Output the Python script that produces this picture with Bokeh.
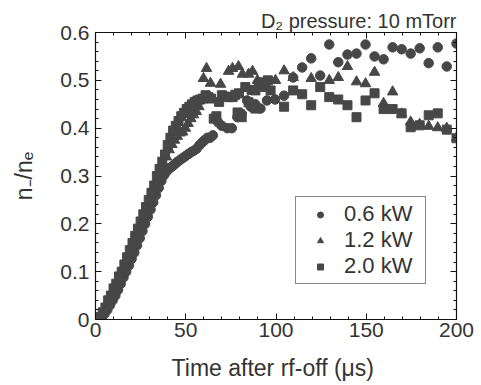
from bokeh.plotting import figure
from bokeh.models import (LinearAxis, SingleIntervalTicker, Range1d, Legend, LegendItem,
                          CustomLabelingPolicy)
from bokeh.embed import file_html
from bokeh.resources import INLINE

# ---- data ----
t_06 = [2, 3.5, 5, 6.5, 8, 9.5, 11, 12.5, 14, 15.5, 17, 18.5, 20, 21.5, 23, 24.5, 26, 27.5,
        29, 30.5, 32, 33.5, 35, 36.5, 38, 39.5, 41, 42.5, 44, 45.5, 47, 48.5, 50, 51.5, 53,
        54.5, 56, 57.5, 59, 60.5, 62, 63.5, 65,
        66.5, 68, 70, 73, 75.5, 78.6, 81, 84, 86, 88.5, 91.4, 95, 99.5,
        104.5, 109.5, 114.5, 119.5, 124.5, 129.5, 134.5, 139.6, 144.6, 149.6, 154.6,
        159.6, 164.6, 169.6, 174.6, 179.6, 184.6, 189.6, 194.6, 200]
v_06 = [0.0, 0.005, 0.012, 0.02, 0.03, 0.04, 0.05, 0.062, 0.075, 0.088, 0.1, 0.113, 0.127,
        0.14, 0.155, 0.17, 0.185, 0.2, 0.215, 0.23, 0.245, 0.26, 0.275, 0.29, 0.302, 0.31,
        0.316, 0.32, 0.325, 0.33, 0.334, 0.338, 0.342, 0.346, 0.35, 0.353, 0.357, 0.364,
        0.37, 0.375, 0.38, 0.38, 0.385,
        0.423, 0.412, 0.405, 0.40, 0.40, 0.423, 0.43, 0.458, 0.445, 0.45, 0.441, 0.458, 0.46,
        0.468, 0.506, 0.527, 0.546, 0.51, 0.575, 0.538, 0.554, 0.556, 0.575, 0.55,
        0.544, 0.569, 0.565, 0.556, 0.567, 0.536, 0.569, 0.529, 0.577]

t_12 = [1.8, 3.3, 4.8, 6.3, 7.8, 9.3, 10.8, 12.3, 13.8, 15.3, 16.8, 18.3, 19.8, 21.3, 22.8,
        24.3, 25.8, 27.3, 28.8, 30.3, 31.8, 33.3, 34.8, 36.3, 37.8, 39.3, 40.8, 42.3, 43.8,
        45.3, 46.8, 48.3, 49.8, 51.3, 52.8, 54.3, 55.8, 57.3,
        59.8, 61.5, 63.7, 69.3, 73.7, 75.9, 79.2, 81.4, 84.8, 87, 89.7, 99.7,
        104.5, 109.5, 119.5, 129.5, 134.5, 139.6, 144.6, 149.6, 154.6, 159.6, 164.6,
        169.6, 174.6, 179.6, 184.6, 189.6, 194.6, 200]
v_12 = [0.0, 0.008, 0.018, 0.03, 0.042, 0.055, 0.068, 0.08, 0.093, 0.106, 0.12, 0.133, 0.148,
        0.163, 0.178, 0.193, 0.208, 0.223, 0.238, 0.253, 0.268, 0.283, 0.298, 0.31, 0.325,
        0.34, 0.355, 0.366, 0.375, 0.383, 0.39, 0.392, 0.40, 0.41, 0.42, 0.428, 0.435, 0.445,
        0.504, 0.525, 0.494, 0.492, 0.519, 0.525, 0.529, 0.513, 0.513, 0.519, 0.50, 0.50,
        0.52, 0.506, 0.504, 0.50, 0.506, 0.529, 0.497, 0.493, 0.517, 0.452, 0.476,
        0.43, 0.413, 0.408, 0.404, 0.401, 0.40, 0.38]

t_20 = [1, 2.5, 4, 5.5, 7, 8.5, 10, 11.5, 13, 14.5, 16, 17.5, 19, 20.5, 22, 23.5, 25, 26.5,
        28, 29.5, 31, 32.5, 34, 35.5, 37, 38.5, 40, 41.5, 43, 44.5, 46, 47.5, 49, 50.5, 52,
        53.5, 55,
        56.5, 58, 59.5, 61, 62.5, 64, 65.5, 67, 68.5, 70, 72, 74, 76, 77.5, 78.7, 79.5, 81,
        83, 84.8, 86.5, 88.6, 88.6, 90.5, 92.5, 94, 95.5, 97,
        104.5, 109.5, 114.5, 119.5, 124.5, 129.5, 134.5, 139.6, 144.6, 149.6, 154.6,
        159.6, 164.6, 169.6, 174.6, 179.6, 184.6, 189.6, 194.6, 200]
v_20 = [0.0, 0.005, 0.015, 0.025, 0.04, 0.05, 0.065, 0.075, 0.09, 0.10, 0.115, 0.13, 0.145,
        0.16, 0.175, 0.19, 0.205, 0.22, 0.235, 0.25, 0.265, 0.28, 0.30, 0.315, 0.33, 0.345,
        0.365, 0.38, 0.395, 0.405, 0.415, 0.425, 0.432, 0.44, 0.445, 0.45, 0.455,
        0.458, 0.46, 0.462, 0.469, 0.465, 0.462, 0.42, 0.425, 0.455, 0.469, 0.466, 0.465,
        0.465, 0.47, 0.433, 0.473, 0.423, 0.486, 0.454, 0.48, 0.479, 0.441, 0.49, 0.496,
        0.486, 0.50, 0.479,
        0.445, 0.479, 0.471, 0.448, 0.486, 0.465, 0.46, 0.448, 0.423, 0.458, 0.473,
        0.44, 0.44, 0.431, 0.402, 0.406, 0.427, 0.431, 0.397, 0.379]

labels = ["0.6 kW", "1.2 kW", "2.0 kW"]
x_ticks_interval = 50
y_ticks_interval = 0.1

FONT = "Liberation Sans"
TXT = "#333333"
MK = "#474747"

p = figure(width=481, height=385, output_backend="svg", toolbar_location=None,
           x_range=Range1d(0, 200), y_range=Range1d(0, 0.6001),
           min_border_left=95, min_border_right=25, min_border_top=32, min_border_bottom=66)
p.background_fill_color = "white"
p.border_fill_color = "white"
p.grid.visible = False
p.outline_line_color = "#111111"
p.outline_line_width = 1.2

# title
p.title.text = "D\u2082 pressure: 10 mTorr"
p.title.align = "right"
p.title.text_font = FONT
p.title.text_font_size = "20px"
p.title.text_font_style = "normal"
p.title.text_color = TXT
p.title.standoff = 2

xt = SingleIntervalTicker(interval=x_ticks_interval, num_minor_ticks=5)
yt = SingleIntervalTicker(interval=y_ticks_interval, num_minor_ticks=5)

no_labels = CustomLabelingPolicy(code="""
try { for (const i of Array.from(indices)) { indices.unset(i) } } catch (e) {}
return indices
""")

def style(ax, labels_on=True):
    ax.axis_line_color = "#111111"
    ax.major_tick_line_color = "#111111"
    ax.minor_tick_line_color = "#111111"
    ax.major_tick_in = 6
    ax.major_tick_out = 0
    ax.minor_tick_in = 3
    ax.minor_tick_out = 0
    ax.major_label_text_font = FONT
    ax.major_label_text_color = TXT
    ax.axis_label_text_font = FONT
    ax.axis_label_text_color = TXT
    ax.axis_label_text_font_style = "normal"
    if labels_on:
        ax.major_label_text_font_size = "21px"
    else:
        ax.major_label_text_font_size = "0px"
        ax.major_label_policy = no_labels
        ax.major_label_standoff = 0

xa = p.xaxis[0]
xa.ticker = xt
style(xa)
xa.major_label_standoff = 3
xa.axis_label = "Time after rf-off  (\u03bcs)"
xa.axis_label_text_font_size = "23px"
xa.axis_label_standoff = 15

ya = p.yaxis[0]
ya.ticker = yt
style(ya)
ya.major_label_standoff = 6
ya.major_label_overrides = {0: "0"}
ya.axis_label = "n\u208b/n\u2091"
ya.axis_label_text_font_size = "23px"
ya.axis_label_standoff = 20

top = LinearAxis(ticker=xt)
style(top, False)
p.add_layout(top, "above")
right = LinearAxis(ticker=yt)
style(right, False)
p.add_layout(right, "right")

r1 = p.scatter(t_06, v_06, marker="circle", size=9.5, fill_color=MK, line_color=MK)
r2 = p.scatter(t_12, v_12, marker="triangle", size=10.5, fill_color=MK, line_color=MK)
r3 = p.scatter(t_20, v_20, marker="square", size=9, fill_color=MK, line_color=MK)

legend = Legend(items=[LegendItem(label=labels[0], renderers=[r1]),
                       LegendItem(label=labels[1], renderers=[r2]),
                       LegendItem(label=labels[2], renderers=[r3])],
                location=(200, 35))
legend.label_text_font = FONT
legend.label_text_font_size = "22px"
legend.label_text_color = TXT
legend.glyph_width = 40
legend.glyph_height = 15
legend.label_standoff = 4
legend.label_width = 77
legend.padding = 4
legend.spacing = 0
legend.border_line_color = "#111111"
legend.border_line_width = 1.5
legend.background_fill_color = "white"
legend.background_fill_alpha = 1
p.add_layout(legend, "center")

open("out.html", "w").write(file_html(p, INLINE))
